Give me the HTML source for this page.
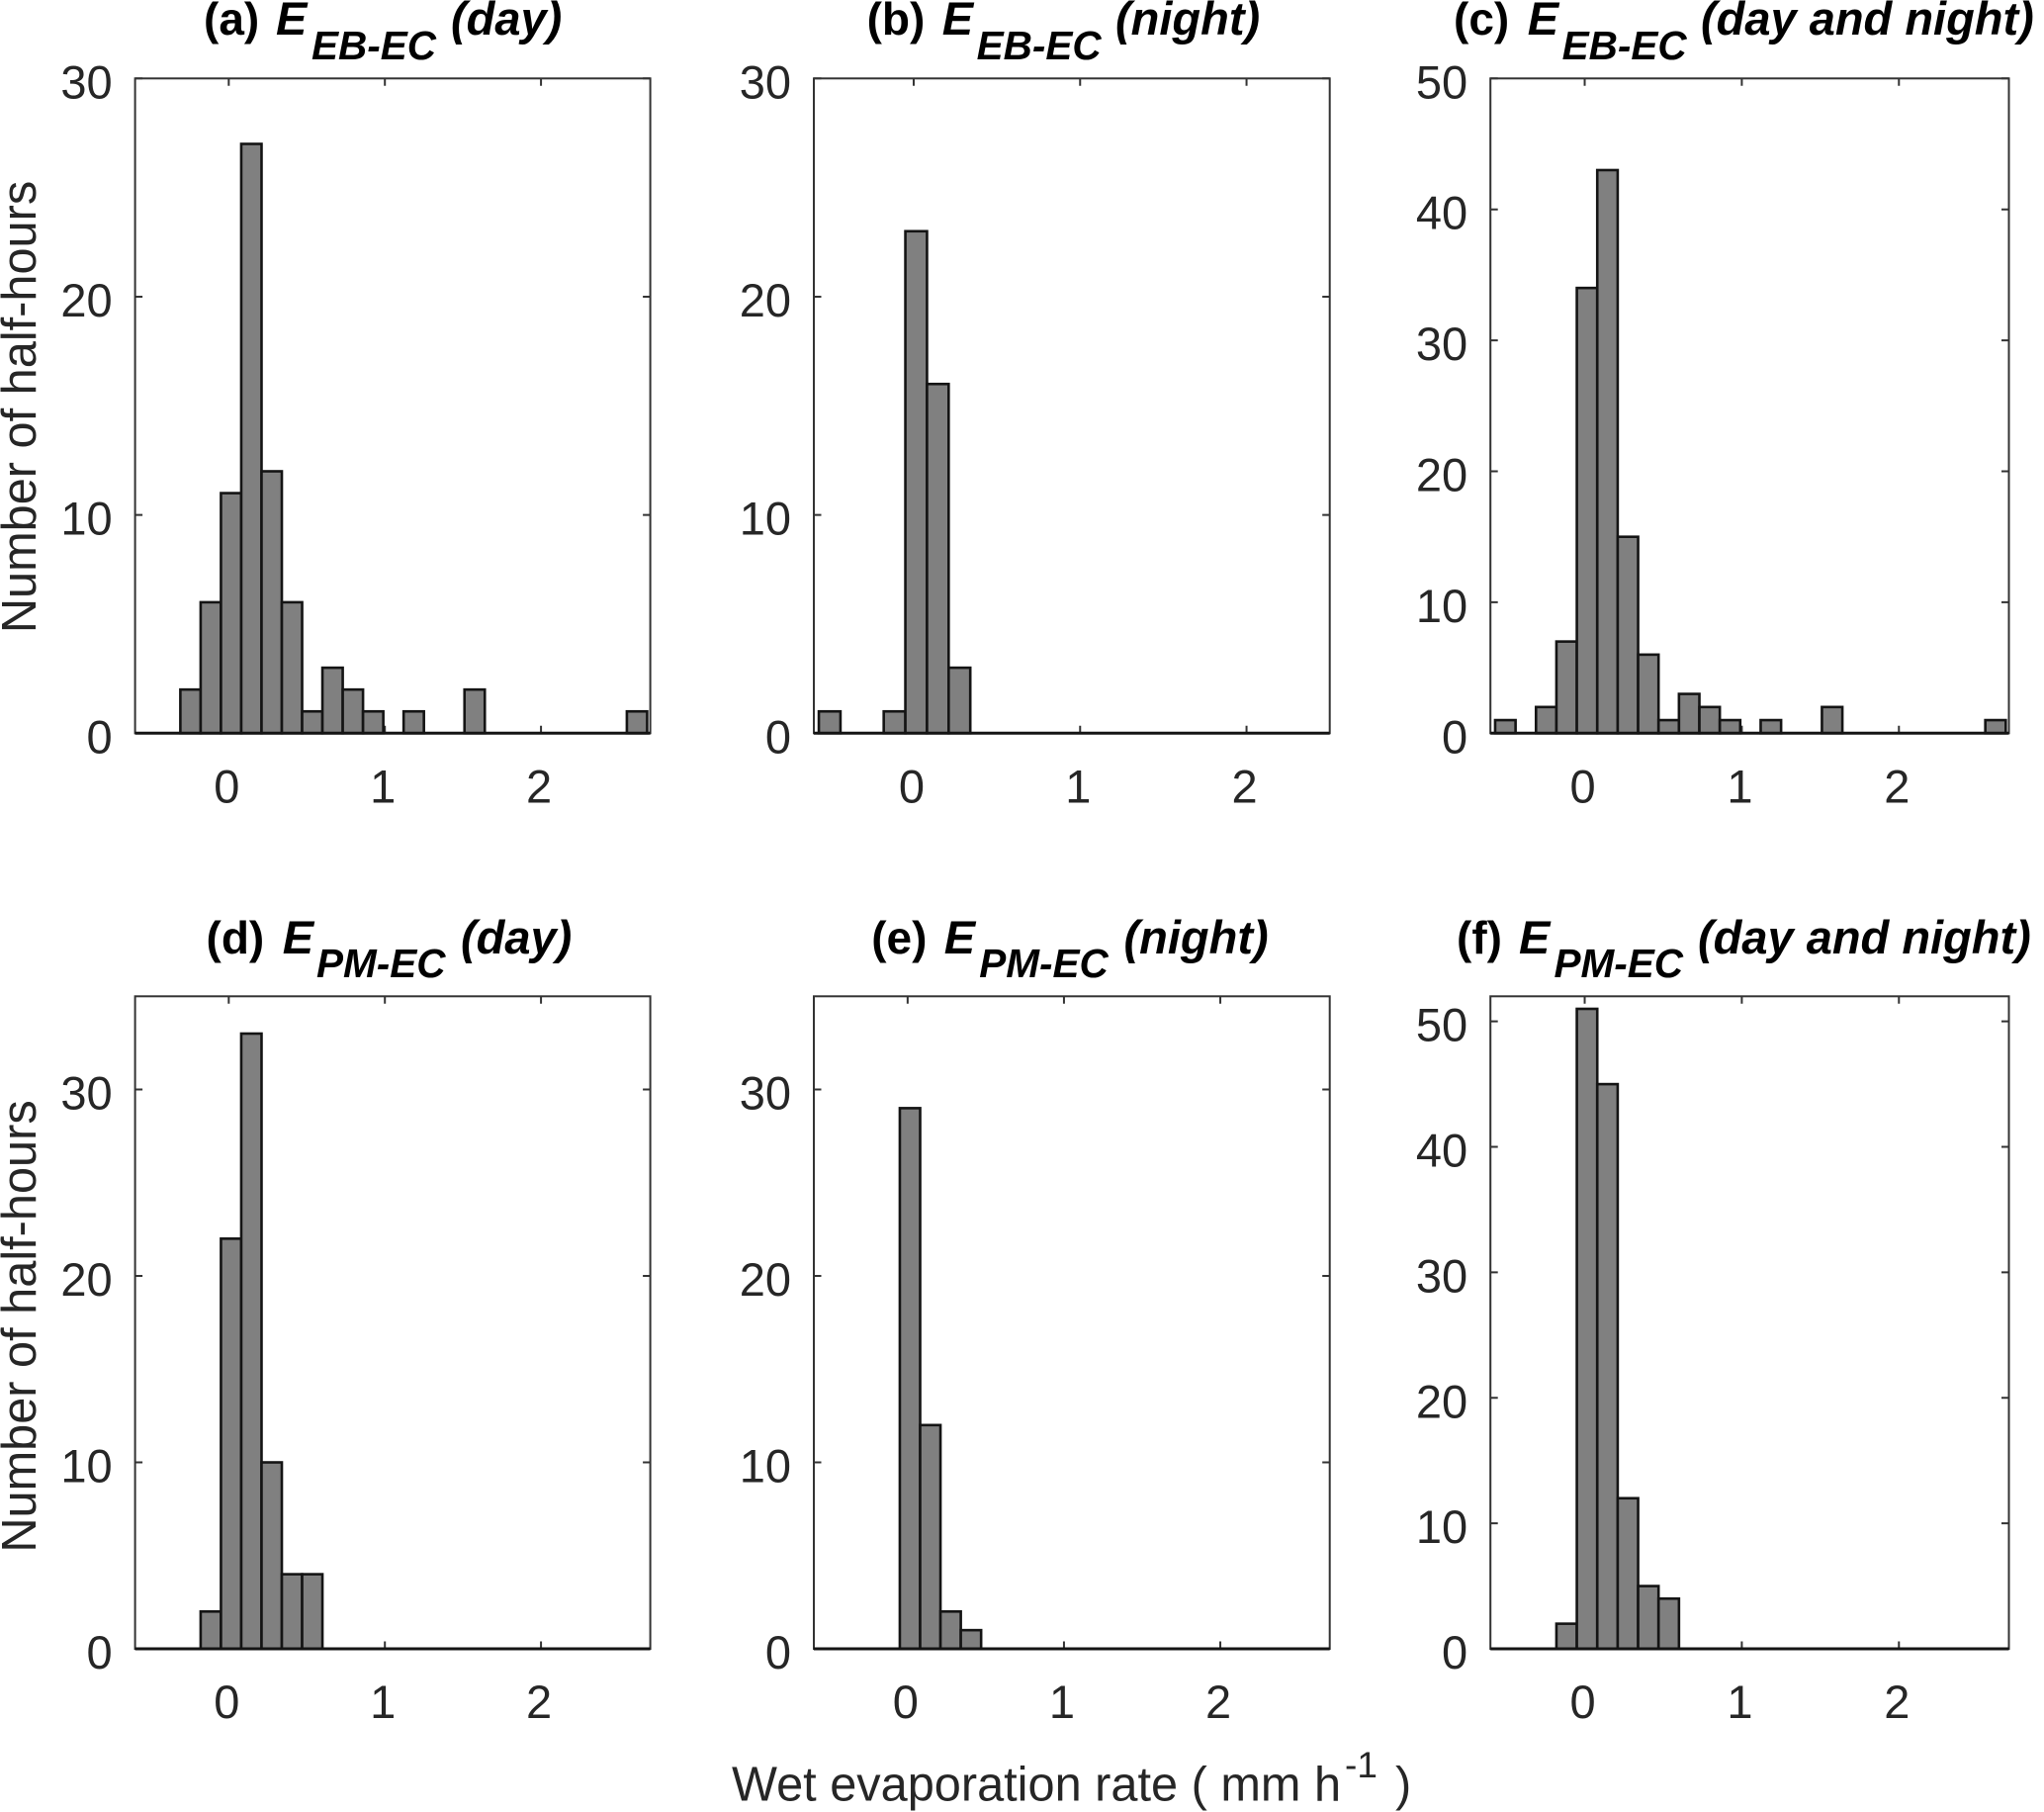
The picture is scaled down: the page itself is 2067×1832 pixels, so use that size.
<!DOCTYPE html>
<html lang="en">
<head>
<meta charset="utf-8">
<title>Wet evaporation rate histograms</title>
<style>
html,body{margin:0;padding:0;background:#fff;}
svg{display:block;}
text{font-family:"Liberation Sans",Arial,sans-serif;}
.ttl{font-weight:bold;font-size:46px;fill:#000;}
.it{font-style:italic;font-size:47px;}
.sub{font-style:italic;font-size:40.5px;}
.lab{font-size:48.7px;fill:#262626;}
.tick{font-size:47px;fill:#262626;}
</style>
</head>
<body>
<svg id="fig" xmlns="http://www.w3.org/2000/svg" width="2067" height="1832" viewBox="0 0 2067 1832">
  <rect width="2067" height="1832" fill="#fff"/>
  <text class="ttl"><tspan x="206" y="35">(a)</tspan><tspan class="it" x="279" y="35">E</tspan><tspan class="sub" x="315" y="60">EB-EC</tspan><tspan class="it" x="456" y="35">(day)</tspan></text>
  <text class="ttl"><tspan x="876.6" y="35">(b)</tspan><tspan class="it" x="952.8" y="35">E</tspan><tspan class="sub" x="987.6" y="60">EB-EC</tspan><tspan class="it" x="1128" y="35">(night)</tspan></text>
  <text class="ttl"><tspan x="1470" y="35">(c)</tspan><tspan class="it" x="1544.7" y="35">E</tspan><tspan class="sub" x="1579.6" y="60">EB-EC</tspan><tspan class="it" x="1720" y="35">(day and night)</tspan></text>
  <text class="ttl"><tspan x="208.5" y="964">(d)</tspan><tspan class="it" x="285.7" y="964">E</tspan><tspan class="sub" x="320" y="988">PM-EC</tspan><tspan class="it" x="466" y="964">(day)</tspan></text>
  <text class="ttl"><tspan x="881.2" y="964">(e)</tspan><tspan class="it" x="954.7" y="964">E</tspan><tspan class="sub" x="990.3" y="988">PM-EC</tspan><tspan class="it" x="1136.5" y="964">(night)</tspan></text>
  <text class="ttl"><tspan x="1473" y="964">(f)</tspan><tspan class="it" x="1536" y="964">E</tspan><tspan class="sub" x="1571.5" y="988">PM-EC</tspan><tspan class="it" x="1717" y="964">(day and night)</tspan></text>
  <text class="lab" text-anchor="middle" transform="translate(36 411.5) rotate(-90)">Number of half-hours</text>
  <text class="lab" text-anchor="middle" transform="translate(36 1341) rotate(-90)">Number of half-hours</text>
  <text class="lab"><tspan x="740" y="1820.7">Wet evaporation rate ( mm h</tspan><tspan x="1360" y="1797" font-size="37">-1</tspan><tspan x="1411" y="1820.7">)</tspan></text>
</svg>
<script>
const binStarts = [-0.57,-0.44,-0.31,-0.18,-0.05,0.08,0.21,0.34,0.47,0.60,0.73,0.86,0.99,1.12,1.25,1.38,1.51,1.64,1.77,1.90,2.03,2.16,2.29,2.42,2.55];
const binWidth = 0.13;
const countsA = [0,0,2,6,11,27,12,6,1,3,2,1,0,1,0,0,2,0,0,0,0,0,0,0,1];
const countsB = [1,0,0,1,23,16,3,0,0,0,0,0,0,0,0,0,0,0,0,0,0,0,0,0,0];
const countsC = [1,0,2,7,34,43,15,6,1,3,2,1,0,1,0,0,2,0,0,0,0,0,0,0,1];
const countsD = [0,0,0,2,22,33,10,4,4,0,0,0,0,0,0,0,0,0,0,0,0,0,0,0,0];
const countsE = [0,0,0,0,29,12,2,1,0,0,0,0,0,0,0,0,0,0,0,0,0,0,0,0,0];
const countsF = [0,0,0,2,51,45,12,5,4,0,0,0,0,0,0,0,0,0,0,0,0,0,0,0,0];
const xTickLabels = [0,1,2];
const yTicks30 = [0,10,20,30];
const yTicks50 = [0,10,20,30,40,50];
const xLimWide = [-0.6,2.7];
const xLimNarrow = [-0.6,2.5];
const yMaxA = 30, yMaxB = 30, yMaxC = 50, yMaxD = 35, yMaxE = 35, yMaxF = 52;

const colLeft = {1:[136.6,657.6], 2:[823,1344.7], 3:[1507.2,2031.5]};
const rowBox = {1:[79.3,741.3], 2:[1007.3,1667]};

const panels = [
  {id:'a', col:1, row:1, counts:countsA, xLim:xLimWide,   yMax:yMaxA, yTicks:yTicks30},
  {id:'b', col:2, row:1, counts:countsB, xLim:xLimNarrow, yMax:yMaxB, yTicks:yTicks30},
  {id:'c', col:3, row:1, counts:countsC, xLim:xLimWide,   yMax:yMaxC, yTicks:yTicks50},
  {id:'d', col:1, row:2, counts:countsD, xLim:xLimWide,   yMax:yMaxD, yTicks:yTicks30},
  {id:'e', col:2, row:2, counts:countsE, xLim:xLimWide,   yMax:yMaxE, yTicks:yTicks30},
  {id:'f', col:3, row:2, counts:countsF, xLim:xLimWide,   yMax:yMaxF, yTicks:yTicks50}
];

const NS = 'http://www.w3.org/2000/svg';
const fig = document.getElementById('fig');
function mk(tag, attrs, parent){
  const el = document.createElementNS(NS, tag);
  for (const k in attrs) el.setAttribute(k, attrs[k]);
  parent.appendChild(el);
  return el;
}

panels.forEach(function(p){
  const L = colLeft[p.col][0], R = colLeft[p.col][1];
  const T = rowBox[p.row][0], B = rowBox[p.row][1];
  const sx = function(v){ return L + (v - p.xLim[0]) / (p.xLim[1] - p.xLim[0]) * (R - L); };
  const sy = function(v){ return B - v / p.yMax * (B - T); };

  const g = mk('g', {}, fig);
  
  

  const box = mk('rect', {x:L, y:T, width:R-L, height:B-T, fill:'#fff', stroke:'#333', 'stroke-width':2}, g);
  
  

  xTickLabels.forEach(function(v){
    const x = sx(v);
    const tb = mk('path', {d:'M'+x+' '+T+'v7.5M'+x+' '+B+'v-7.5', stroke:'#333', 'stroke-width':2, fill:'none'}, g);
    
    
    const t = mk('text', {class:'tick', x:x-2, y:B+70, 'text-anchor':'middle'}, g);
    
    
    t.textContent = v;
  });

  p.yTicks.forEach(function(v){
    const y = sy(v);
    const tb = mk('path', {d:'M'+L+' '+y+'h7.5M'+R+' '+y+'h-7.5', stroke:'#333', 'stroke-width':2, fill:'none'}, g);
    
    
    const t = mk('text', {class:'tick', x:L-23, y:y+20, 'text-anchor':'end'}, g);
    
    
    t.textContent = v;
  });

  p.counts.forEach(function(c, i){
    if (!c) return;
    const x0 = sx(binStarts[i]), x1 = sx(binStarts[i] + binWidth);
    const r = mk('rect', {x:x0, y:sy(c), width:x1-x0, height:B-sy(c), fill:'#808080', stroke:'#141414', 'stroke-width':2.6}, g);
    
    
  });

  const base = mk('line', {x1:L, x2:R, y1:B, y2:B, stroke:'#141414', 'stroke-width':3}, g);
  
  
});
</script>
</body>
</html>
